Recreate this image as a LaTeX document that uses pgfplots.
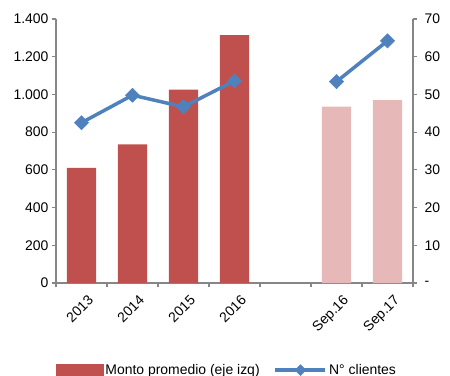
\documentclass[border=0pt]{standalone}
\usepackage{pgfplots}
\pgfplotsset{compat=1.18}
\usepackage{fontspec}
\setmainfont{Liberation Sans}
\definecolor{barred}{HTML}{C0504D}
\definecolor{barpink}{HTML}{E6B9B8}
\definecolor{lineblue}{HTML}{4F81BD}
\definecolor{axgray}{HTML}{868686}
\pgfplotsset{
  barlegend/.style={legend image code/.code={\fill[barred] (0bp,-6bp) rectangle (47bp,6bp);}},
  linelegend/.style={legend image code/.code={%
    \draw[lineblue, line width=3.5bp] (0bp,0bp) -- (50bp,0bp);
    \fill[lineblue] (25bp,-5.5bp) -- (30.5bp,0bp) -- (25bp,5.5bp) -- (19.5bp,0bp) -- cycle;}},
}
\begin{document}
\begin{tikzpicture}[font=\fontsize{14}{16}\selectfont]
\begin{axis}[
  scale only axis, width=357bp, height=264bp,
  xmin=-0.5, xmax=6.5, ymin=0, ymax=1400,
  axis x line*=bottom, axis y line*=left,
  axis line style={axgray, line width=1.5bp, -},
  xtick={-0.5,0.5,...,6.5}, x tick label as interval,
  xticklabels={2013,2014,2015,2016,,Sep.16,Sep.17},
  x tick label style={rotate=45, anchor=north east, xshift=0bp, yshift=-8bp, inner sep=1bp},
  ytick={0,200,...,1400},
  tick align=outside, major tick length=4bp,
  tick style={axgray, line width=1.2bp},
  /pgf/number format/.cd, 1000 sep={.}, assume math mode=true,
]
\addplot[ybar, bar width=0.57, bar shift=0pt, fill=barred, draw=none] coordinates {(0,610) (1,735) (2,1025) (3,1315)};
\addplot[ybar, bar width=0.57, bar shift=0pt, fill=barpink, draw=none] coordinates {(5,935) (6,970)};
\end{axis}
\begin{axis}[
  scale only axis, width=357bp, height=264bp,
  xmin=-0.5, xmax=6.5, ymin=0, ymax=70,
  axis x line=none, axis y line*=right,
  axis line style={axgray, line width=1.5bp, -},
  ytick={0,10,...,70},
  yticklabels={-,10,20,30,40,50,60,70},
  y tick label style={xshift=4bp},
  tick align=outside, major tick length=4bp,
  tick style={axgray, line width=1.2bp},
  legend style={at={(0.479,-0.33)}, anchor=center, draw=none, fill=none,
    legend columns=2, font=\fontsize{14}{16}\selectfont,
    /tikz/every even column/.append style={column sep=12bp}},
]
\addlegendimage{barlegend}
\addlegendentry{Monto promedio (eje izq)}
\addlegendimage{linelegend}
\addlegendentry{N° clientes}
\addplot[lineblue, line width=3.5bp, mark=square*, mark size=5bp, mark options={rotate=45, fill=lineblue, draw=lineblue, line width=0.5bp}, forget plot] coordinates {(0,42.5) (1,49.8) (2,46.7) (3,53.6)};
\addplot[lineblue, line width=3.5bp, mark=square*, mark size=5bp, mark options={rotate=45, fill=lineblue, draw=lineblue, line width=0.5bp}, forget plot] coordinates {(5,53.4) (6,64.2)};
\end{axis}
\pgfresetboundingbox
\path[use as bounding box] (-56bp,-93bp) rectangle (394bp,283bp);
\end{tikzpicture}
\end{document}
